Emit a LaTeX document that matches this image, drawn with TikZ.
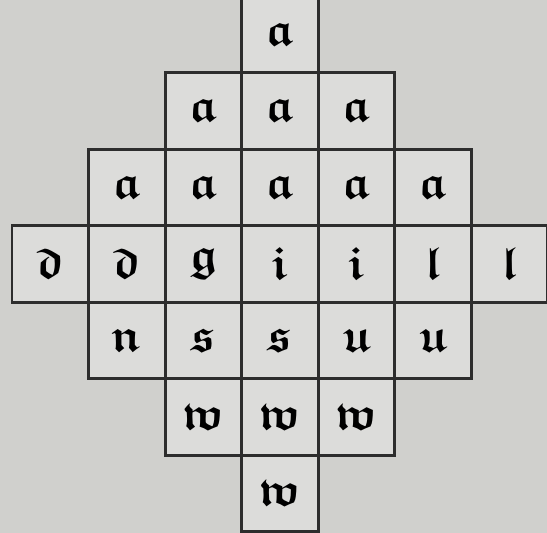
\documentclass[tikz,border=0pt]{standalone}
\usepackage{amsmath}
\usepackage{amssymb}
\definecolor{paper}{RGB}{208,208,205}
\definecolor{cellgray}{RGB}{220,220,218}
\definecolor{ink}{RGB}{45,45,45}
\tikzset{
  cell/.style={draw=ink, fill=cellgray, line width=1.1pt,
    minimum size=1cm, inner sep=0pt, font=\LARGE}
}
\newcommand{\frk}[1]{$\boldsymbol{\mathfrak{#1}}$}
\begin{document}
\begin{tikzpicture}
    \path[use as bounding box, fill=paper] (-0.157,-0.015) rectangle (6.99,6.948);
    \begin{scope}
    \clip (-0.157,-0.015) rectangle (6.99,6.948);

    % Top
    \node[cell] (r1c3) at (3.5,6.5) {\frk{a}};

    % Upper rows
    \foreach \ltr [count=\i from 2] in {a,a,a}
        \node[cell] (r2c\i) at (\i+0.5,5.5) {\frk{\ltr}};
    \foreach \ltr [count=\i from 1] in {a,a,a,a,a}
        \node[cell] (r3c\i) at (\i+0.5,4.5) {\frk{\ltr}};

    % Middle row
    \foreach \ltr [count=\i from 0] in {d,d,g,i,i,l,l}
        \node[cell] (r4c\i) at (\i+0.5,3.5) {\frk{\ltr}};

    % Lower rows
    \foreach \ltr [count=\i from 1] in {n,s,s,u,u}
        \node[cell] (r5c\i) at (\i+0.5,2.5) {\frk{\ltr}};
    \foreach \ltr [count=\i from 2] in {w,w,w}
        \node[cell] (r6c\i) at (\i+0.5,1.5) {\frk{\ltr}};

    % Bottom
    \node[cell] (r7c3) at (3.5,0.5) {\frk{w}};
    \end{scope}
  \end{tikzpicture}
\end{document}
